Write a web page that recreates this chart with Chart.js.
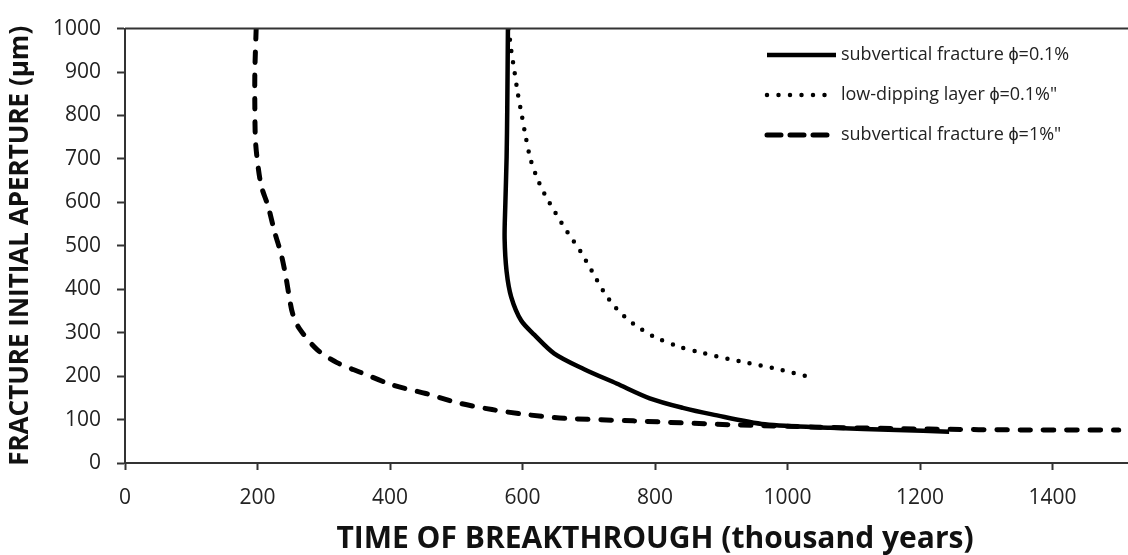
<!DOCTYPE html>
<html>
<head>
<meta charset="utf-8">
<script src="https://cdn.jsdelivr.net/npm/chart.js@4"></script>
<style>
  html, body { margin: 0; padding: 0; background: #fff; overflow: hidden; width: 1128px; height: 555px; }
  #wrap { width: 1200px; height: 555px; }
</style>
</head>
<body>
<div id="wrap"><canvas id="chart" width="1200" height="555"></canvas></div>
<script>
  // subvertical fracture, porosity 0.1% (solid)
  var fracLowTime = [578, 577, 576, 574, 573, 576, 583, 598, 618, 648, 693, 742, 792, 842, 886, 966, 1065, 1165, 1244];
  var fracLowAperture = [1000, 816, 703, 591, 517, 441, 382, 328, 295, 252, 216, 183, 149, 127, 112, 89, 81, 76, 72];

  // low-dipping layer, porosity 0.1% (dotted)
  var layerTime = [579, 583, 588, 593, 599, 605, 612, 621, 633, 650, 668, 688, 705, 722, 742, 767, 797, 832, 870, 931, 980, 1031];
  var layerAperture = [1000, 950, 900, 850, 800, 750, 700, 660, 620, 575, 531, 486, 441, 396, 355, 321, 292, 270, 254, 233, 218, 199];

  // subvertical fracture, porosity 1% (dashed)
  var fracHighTime = [198, 196, 196, 197, 201, 206, 216, 226, 236, 243, 248, 253, 263, 290, 320, 355, 405, 454, 504, 554, 603, 663, 767, 916, 1065, 1214, 1363, 1500];
  var fracHighAperture = [1000, 900, 816, 741, 681, 636, 591, 531, 479, 427, 382, 344, 310, 261, 231, 209, 179, 160, 138, 123, 112, 103, 97, 88, 82, 78, 76, 76];

  var seriesNames = ['subvertical fracture \u03D5=0.1%', 'low-dipping layer \u03D5=0.1%"', 'subvertical fracture \u03D5=1%"'];

  function toPoints(xs, ys) {
    return xs.map(function (x, i) { return {x: x, y: ys[i]}; });
  }

  var ink = '#000';
  var axisInk = '#333';
  var textInk = '#222';

  // legend drawn inside the plot, top right
  var legendPlugin = {
    id: 'innerLegend',
    afterDraw: function (chart) {
      var ctx = chart.ctx;
      var x0 = 767, x1 = 836, tx = 841;
      var rows = [55, 95, 135];
      ctx.save();
      chart.data.datasets.forEach(function (ds, i) {
        var y = rows[i];
        ctx.beginPath();
        ctx.strokeStyle = ds.borderColor;
        ctx.lineWidth = ds.borderWidth;
        ctx.lineCap = ds.borderCapStyle;
        ctx.setLineDash(ds.legendDash || ds.borderDash || []);
        ctx.moveTo(x0, y);
        ctx.lineTo(i === 0 ? x1 : x1 - 6, y);
        ctx.stroke();
        ctx.setLineDash([]);
        ctx.fillStyle = textInk;
        ctx.font = '18px "Open Sans", sans-serif';
        ctx.textBaseline = 'middle';
        ctx.textAlign = 'left';
        ctx.fillText(ds.label, tx, y);
      });
      ctx.restore();
    }
  };

  // frame line along the top of the plot area
  var topFrame = {
    id: 'topFrame',
    afterDraw: function (chart) {
      var a = chart.chartArea, ctx = chart.ctx;
      ctx.save();
      ctx.strokeStyle = axisInk;
      ctx.lineWidth = 2;
      ctx.beginPath();
      ctx.moveTo(a.left, a.top);
      ctx.lineTo(a.right, a.top);
      ctx.stroke();
      ctx.restore();
    }
  };

  new Chart(document.getElementById('chart'), {
    type: 'scatter',
    data: {
      datasets: [
        {
          label: seriesNames[0],
          data: toPoints(fracLowTime, fracLowAperture),
          showLine: true,
          borderColor: ink,
          borderWidth: 4.5,
          borderCapStyle: 'butt',
          tension: 0.3,
          pointRadius: 0
        },
        {
          label: seriesNames[1],
          data: toPoints(layerTime, layerAperture),
          showLine: true,
          borderColor: ink,
          borderWidth: 4.5,
          borderDash: [0, 11.3],
          legendDash: [0, 11.5],
          borderCapStyle: 'round',
          tension: 0.3,
          pointRadius: 0
        },
        {
          label: seriesNames[2],
          data: toPoints(fracHighTime, fracHighAperture),
          showLine: true,
          borderColor: ink,
          borderWidth: 5,
          borderDash: [10.5, 12.8],
          legendDash: [14, 9],
          borderCapStyle: 'round',
          tension: 0.3,
          pointRadius: 0
        }
      ]
    },
    options: {
      responsive: false,
      animation: false,
      devicePixelRatio: 1,
      layout: { padding: { top: 18, right: 1, left: 0, bottom: 0 } },
      plugins: {
        legend: { display: false },
        tooltip: { enabled: false }
      },
      scales: {
        x: {
          type: 'linear',
          min: 0,
          max: 1600,
          afterFit: function (scale) { scale.height = 92; },
          ticks: {
            stepSize: 200,
            padding: 15,
            color: textInk,
            font: { family: '"Open Sans", sans-serif', size: 21 },
            callback: function (v) { return v >= 1600 ? '' : String(v); }
          },
          grid: { drawOnChartArea: false, tickLength: 7, tickWidth: 2, tickColor: axisInk },
          border: { color: axisInk, width: 2 },
          title: {
            display: true,
            text: 'TIME OF BREAKTHROUGH (thousand years)',
            color: '#111',
            font: { family: '"Open Sans", sans-serif', size: 30, weight: 'bold', lineHeight: 1.0 },
            padding: { top: 0, bottom: 1 }
          }
        },
        y: {
          min: 0,
          max: 1000,
          afterFit: function (scale) { scale.width = 125; },
          ticks: {
            stepSize: 100,
            padding: 16,
            color: textInk,
            font: { family: '"Open Sans", sans-serif', size: 21 },
            callback: function (v) { return String(v); }
          },
          grid: { drawOnChartArea: false, tickLength: 8, tickWidth: 2, tickColor: axisInk },
          border: { color: axisInk, width: 2 },
          title: {
            display: true,
            text: 'FRACTURE INITIAL APERTURE (\u00B5m)',
            color: '#111',
            font: { family: '"Open Sans", sans-serif', size: 26, weight: 'bold', lineHeight: 1.1 },
            padding: { top: 6, bottom: 0 }
          }
        }
      }
    },
    plugins: [legendPlugin, topFrame]
  });
</script>
</body>
</html>
